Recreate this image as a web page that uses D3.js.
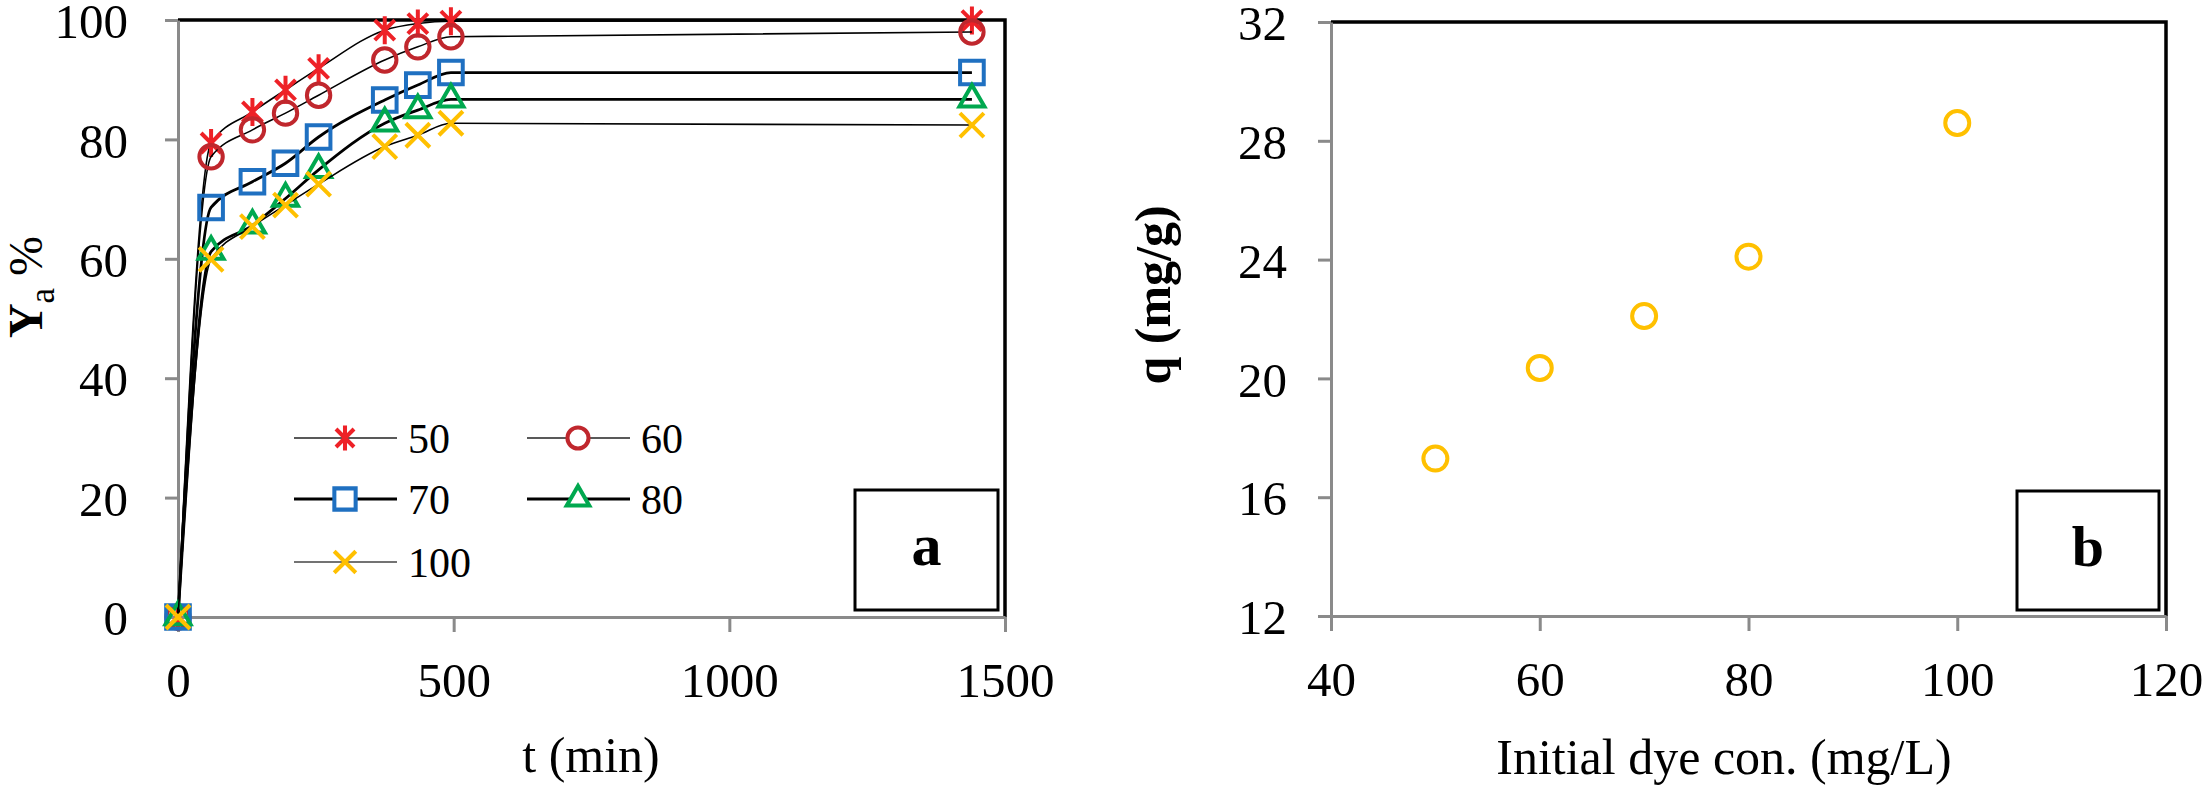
<!DOCTYPE html>
<html>
<head>
<meta charset="utf-8">
<script src="https://cdn.jsdelivr.net/npm/d3@7"></script>
<style>
  body { margin: 0; background: #fff; }
  svg text { font-family: "Liberation Serif", "Times New Roman", serif; fill: #000; }
</style>
</head>
<body>
<div id="chart"></div>
<script>
// panel a: removal % vs time for each initial dye concentration
const times = [0, 60, 135, 195, 255, 375, 435, 495, 1440];
const seriesNames = ["50", "60", "70", "80", "100"];
const y50  = [0, 79.4, 84.6, 88.3, 91.9, 98.3, 99.4, 99.8, 99.9];
const y60  = [0, 77.1, 81.6, 84.4, 87.4, 93.3, 95.5, 97.2, 98.0];
const y70  = [0, 68.6, 72.9, 76.0, 80.4, 86.6, 89.1, 91.2, 91.2];
const y80  = [0, 61.2, 65.6, 70.1, 74.9, 82.7, 84.9, 86.7, 86.7];
const y100 = [0, 59.9, 65.4, 69.0, 72.5, 78.8, 80.7, 82.7, 82.4];
const xTicksA = [0, 500, 1000, 1500];
const yTicksA = [0, 20, 40, 60, 80, 100];

// panel b: uptake vs initial concentration
const initConc = [50, 60, 70, 80, 100];
const qValues  = [17.3, 20.35, 22.1, 24.1, 28.6];
const xTicksB = [40, 60, 80, 100, 120];
const yTicksB = [12, 16, 20, 24, 28, 32];

const seriesValues = [y50, y60, y70, y80, y100];
const colors  = ["#EE2127", "#C0272D", "#1F70C1", "#00A84F", "#FFC000"];
const symbols = ["asterisk", "circle", "square", "triangle", "cross"];
const lineWidths = [1.6, 1.6, 2.8, 2.8, 1.6];
const legendLineColors = ["#222", "#222", "#000", "#000", "#444"];

const width = 2205, height = 790;
const axisGrey = "#8a8a8a";
const serif = '"Liberation Serif", "Times New Roman", serif';

const svg = d3.select("#chart").append("svg")
  .attr("width", width)
  .attr("height", height)
  .style("background", "#fff");

function markerPath(type) {
  if (type == "asterisk") {
    const r = 14, a = 10;
    return `M0,${-r}L0,${r}M${-a},${-a}L${a},${a}M${a},${-a}L${-a},${a}`;
  }
  if (type == "cross") {
    const a = 12;
    return `M${-a},${-a}L${a},${a}M${a},${-a}L${-a},${a}`;
  }
  if (type == "circle") return d3.symbol(d3.symbolCircle, 430)();
  if (type == "square") return d3.symbol(d3.symbolSquare, 560)();
  return d3.symbol(d3.symbolTriangle, 270)();
}

function styleAxis(g) {
  g.attr("font-family", serif).attr("font-size", 48);
  g.select(".domain").attr("stroke", axisGrey).attr("stroke-width", 3);
  g.selectAll(".tick line").attr("stroke", axisGrey).attr("stroke-width", 3);
  g.selectAll(".tick text")
    .style("font-family", serif)
    .style("font-size", "49px")
    .attr("fill", "#000");
}

function drawFrame(x, y) {
  const [x0, x1] = x.range();
  const [y0, y1] = y.range();
  svg.append("path")
    .attr("d", `M${x0},${y1}L${x1},${y1}L${x1},${y0}`)
    .attr("fill", "none")
    .attr("stroke", "#000")
    .attr("stroke-width", 3.5);
}

function drawAxes(x, y, xt, yt, yPad) {
  const gx = svg.append("g")
    .attr("transform", `translate(0,${y.range()[0]})`)
    .call(d3.axisBottom(x).tickValues(xt).tickSize(15).tickSizeOuter(0).tickFormat(d3.format("d")));
  styleAxis(gx);
  gx.selectAll(".tick text").attr("y", 80).attr("dy", 0);

  const gy = svg.append("g")
    .attr("transform", `translate(${x.range()[0]},0)`)
    .call(d3.axisLeft(y).tickValues(yt).tickSize(13).tickSizeOuter(0).tickPadding(yPad));
  styleAxis(gy);
  gy.selectAll(".tick text").attr("dy", "0.36em");
}

function labelBox(x, y, w, h, label, size) {
  svg.append("rect")
    .attr("x", x).attr("y", y).attr("width", w).attr("height", h)
    .attr("fill", "#fff").attr("stroke", "#000").attr("stroke-width", 3);
  svg.append("text")
    .attr("x", x + w / 2).attr("y", y + 75)
    .attr("text-anchor", "middle")
    .style("font-size", size + "px")
    .style("font-weight", "bold")
    .text(label);
}

// ---------- panel a ----------
const xa = d3.scaleLinear().domain([0, 1500]).range([178, 1005]);
const ya = d3.scaleLinear().domain([0, 100]).range([617, 20]);

drawFrame(xa, ya);
drawAxes(xa, ya, xTicksA, yTicksA, 37);

const line = d3.line()
  .x(d => xa(d[0]))
  .y(d => ya(d[1]))
  .curve(d3.curveMonotoneX);

seriesNames.forEach(function(name, i) {
  const pts = times.map((t, j) => [t, seriesValues[i][j]]);
  svg.append("path")
    .attr("d", line(pts))
    .attr("fill", "none")
    .attr("stroke", "#000")
    .attr("stroke-width", lineWidths[i]);

  svg.append("g").selectAll("path")
    .data(pts)
    .join("path")
    .attr("transform", d => `translate(${xa(d[0])},${ya(d[1])})`)
    .attr("d", markerPath(symbols[i]))
    .attr("fill", "none")
    .attr("stroke", colors[i])
    .attr("stroke-width", 4);
});

// legend
const legendRows = [438, 499, 562];
const legendCols = [294, 527];
seriesNames.forEach(function(name, i) {
  const lx = legendCols[i % 2];
  const ly = legendRows[Math.floor(i / 2)];
  const g = svg.append("g").attr("transform", `translate(${lx},${ly})`);
  g.append("line")
    .attr("x1", 0).attr("x2", 103)
    .attr("stroke", legendLineColors[i])
    .attr("stroke-width", lineWidths[i]);
  g.append("path")
    .attr("transform", "translate(51,0) scale(0.9)")
    .attr("d", markerPath(symbols[i]))
    .attr("fill", symbols[i] == "circle" || symbols[i] == "square" || symbols[i] == "triangle" ? "#fff" : "none")
    .attr("stroke", colors[i])
    .attr("stroke-width", 4.5);
  g.append("text")
    .attr("x", 114)
    .attr("dy", "0.35em")
    .style("font-size", "42px")
    .text(name);
});

labelBox(855, 490, 143, 120, "a", 60);

svg.append("text")
  .attr("x", 591).attr("y", 772)
  .attr("text-anchor", "middle")
  .style("font-size", "50px")
  .text("t (min)");

const ytA = svg.append("text")
  .attr("transform", "translate(42,287) rotate(-90)")
  .attr("text-anchor", "middle")
  .style("font-size", "48px");
ytA.append("tspan").style("font-weight", "bold").text("Y");
ytA.append("tspan").attr("dy", 12).style("font-size", "35px").text("a");
ytA.append("tspan").attr("dy", -12).text("\u00a0%");

// ---------- panel b ----------
const xb = d3.scaleLinear().domain([40, 120]).range([1331, 2166]);
const yb = d3.scaleLinear().domain([12, 32]).range([616, 22]);

drawFrame(xb, yb);
drawAxes(xb, yb, xTicksB, yTicksB, 31);

svg.append("g").selectAll("circle")
  .data(initConc.map((c, i) => [c, qValues[i]]))
  .join("circle")
  .attr("cx", d => xb(d[0]))
  .attr("cy", d => yb(d[1]))
  .attr("r", 12)
  .attr("fill", "none")
  .attr("stroke", "#FFC000")
  .attr("stroke-width", 4);

labelBox(2017, 491, 142, 119, "b", 58);

svg.append("text")
  .attr("x", 1724).attr("y", 774)
  .attr("text-anchor", "middle")
  .style("font-size", "50px")
  .text("Initial dye con. (mg/L)");

svg.append("text")
  .attr("transform", "translate(1170,295) rotate(-90)")
  .attr("text-anchor", "middle")
  .style("font-size", "50px")
  .style("font-weight", "bold")
  .text("q (mg/g)");
</script>
</body>
</html>
